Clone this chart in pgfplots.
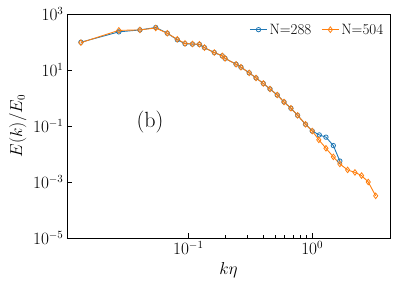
\documentclass[border=0pt]{standalone}
\usepackage{pgfplots}
\pgfplotsset{compat=1.18}
\definecolor{tabblue}{HTML}{1F77B4}
\definecolor{taborange}{HTML}{FF7F0E}
\begin{document}
\begin{tikzpicture}
\begin{axis}[
  at={(0,0)}, anchor=south west,
  scale only axis,
  width=323pt, height=224pt,
  xmode=log, ymode=log,
  xmin=0.0105, xmax=4.24,
  ymin=1e-5, ymax=1e3,
  ytick={1e-5,1e-3,1e-1,1e1,1e3},
  yminorticks=false,
  xtick={0.1,1},
  xtick pos=bottom, ytick pos=left,
  tick align=inside,
  major tick length=5pt, minor tick length=3pt,
  axis line style={line width=0.9pt},
  tick style={line width=0.7pt,black},
  ticklabel style={font=\fontsize{16}{19}\selectfont},
  xlabel={$k\eta$}, ylabel={$E(k)/E_0$},
  label style={font=\fontsize{16}{19}\selectfont},
  xlabel style={at={(axis description cs:0.5,-0.143)}, anchor=center},
  ylabel style={at={(axis description cs:-0.152,0.5)}, anchor=center},
  legend style={draw=none, fill=none, at={(0.995,0.975)}, anchor=north east, legend columns=2, font=\fontsize{15}{18}\selectfont, /tikz/every even column/.append style={column sep=8pt}},
  legend cell align=left,
]
\addplot[draw=tabblue, line width=0.9pt, mark=o, mark size=2.2pt, mark options={solid,draw=tabblue,line width=0.8pt}] coordinates {
(0.0136,98) (0.0275,230) (0.0407,270) (0.0546,330) (0.0677,205) (0.0815,120)
(0.094,87) (0.108,84) (0.123,82) (0.135,63) (0.162,42) (0.188,32) (0.198,26)
(0.243,16) (0.266,12.6) (0.310,7.9) (0.352,5.2) (0.403,3.3) (0.456,2.1) (0.522,1.28)
(0.592,0.72) (0.673,0.43) (0.762,0.24) (0.883,0.115) (1.0,0.066)
(1.14,0.048) (1.29,0.040) (1.48,0.020) (1.67,0.0056)
};
\addlegendentry{N=288}
\addplot[draw=taborange, line width=0.9pt, mark=diamond, mark size=2.8pt, mark options={solid,draw=taborange,line width=0.8pt}] coordinates {
(0.0136,95) (0.0275,260) (0.0407,270) (0.0546,316) (0.0677,205) (0.0815,125)
(0.094,89) (0.108,85) (0.123,83) (0.135,63) (0.162,42) (0.188,32) (0.198,26)
(0.243,16) (0.266,12.6) (0.310,7.9) (0.352,5.2) (0.403,3.3) (0.456,2.1) (0.522,1.28)
(0.592,0.72) (0.673,0.43) (0.762,0.24) (0.883,0.115) (1.0,0.066)
(1.13,0.032) (1.29,0.016) (1.48,0.0079) (1.67,0.0044) (1.93,0.0027) (2.21,0.0022)
(2.50,0.0017) (2.83,0.0010) (3.25,0.00032)
};
\addlegendentry{N=504}
\node[font=\fontsize{22}{26}\selectfont] at (axis cs:0.049,0.14) {(b)};
\end{axis}
\pgfresetboundingbox
\path (-67pt,-50pt) rectangle (332pt,238pt);
\end{tikzpicture}
\end{document}
